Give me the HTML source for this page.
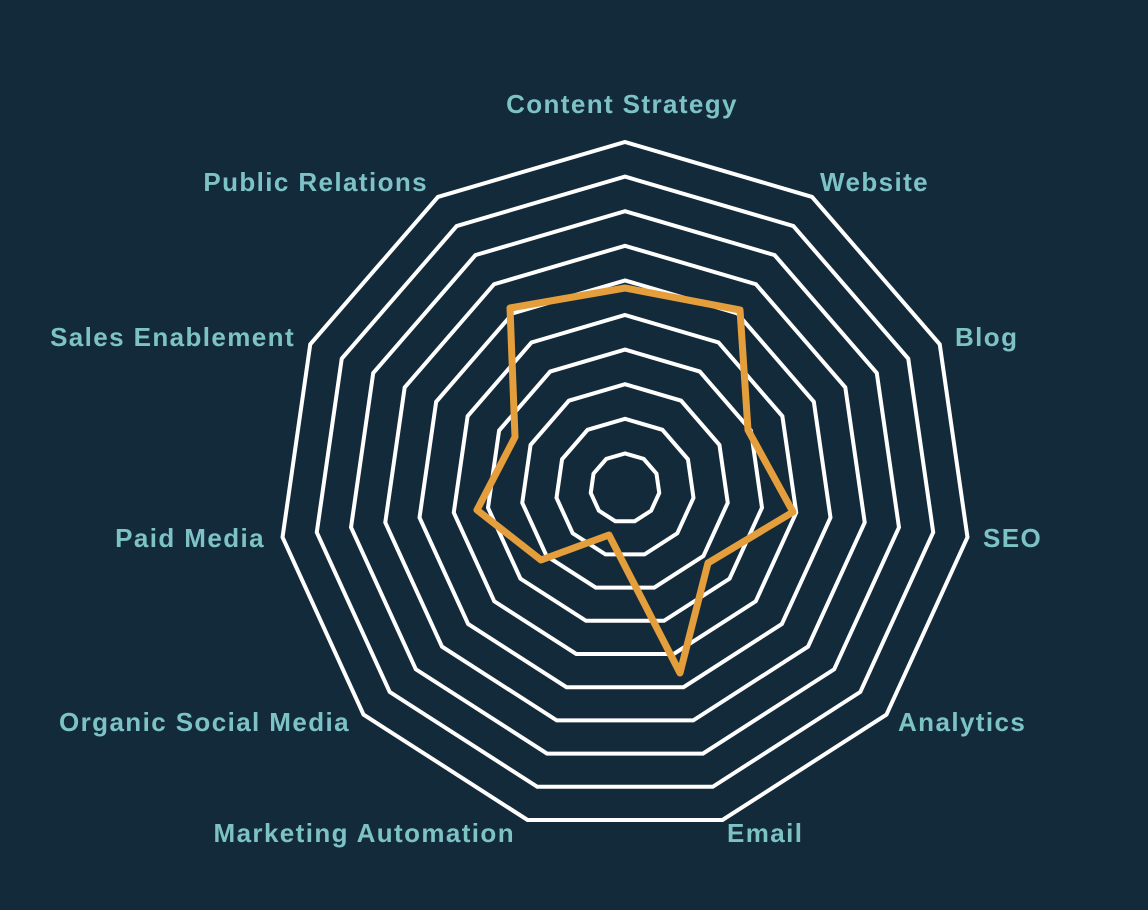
<!DOCTYPE html>
<html><head><meta charset="utf-8"><style>
html,body{margin:0;padding:0;background:#132A3A;}
svg{display:block}
text{font-family:"Liberation Sans",sans-serif;font-weight:bold;font-size:26px;letter-spacing:1.4px;fill:#7DC3C6;}
</style></head><body>
<svg width="1148" height="910" viewBox="0 0 1148 910">
<rect width="1148" height="910" fill="#132A3A"/>
<defs>
<polygon id="p" points="0,-1 0.5406,-0.8413 0.9096,-0.4154 0.9898,0.1423 0.7557,0.6549 0.2817,0.9595 -0.2817,0.9595 -0.7557,0.6549 -0.9898,0.1423 -0.9096,-0.4154 -0.5406,-0.8413" fill="none" stroke="#fff" stroke-width="4" vector-effect="non-scaling-stroke" stroke-linejoin="miter"/>
</defs>
<g transform="translate(625,488)">
<use href="#p" transform="scale(34.6)"/>
<use href="#p" transform="scale(69.2)"/>
<use href="#p" transform="scale(103.8)"/>
<use href="#p" transform="scale(138.4)"/>
<use href="#p" transform="scale(173)"/>
<use href="#p" transform="scale(207.6)"/>
<use href="#p" transform="scale(242.2)"/>
<use href="#p" transform="scale(276.8)"/>
<use href="#p" transform="scale(311.4)"/>
<use href="#p" transform="scale(346)"/>
</g>
<polygon points="625,288 740,310 748,430 793,512 708,563 680,673 609,535 541,560 477,510 515,437 510,308" fill="none" stroke="#E49E3B" stroke-width="7" stroke-linejoin="round"/>
<text x="622" y="113" text-anchor="middle">Content Strategy</text>
<text x="820" y="191">Website</text>
<text x="955" y="346">Blog</text>
<text x="983" y="547">SEO</text>
<text x="898" y="731">Analytics</text>
<text x="727" y="842">Email</text>
<text x="515" y="842" text-anchor="end">Marketing Automation</text>
<text x="350" y="731" text-anchor="end">Organic Social Media</text>
<text x="265" y="547" text-anchor="end">Paid Media</text>
<text x="295" y="346" text-anchor="end">Sales Enablement</text>
<text x="428" y="191" text-anchor="end">Public Relations</text>
</svg>
</body></html>
